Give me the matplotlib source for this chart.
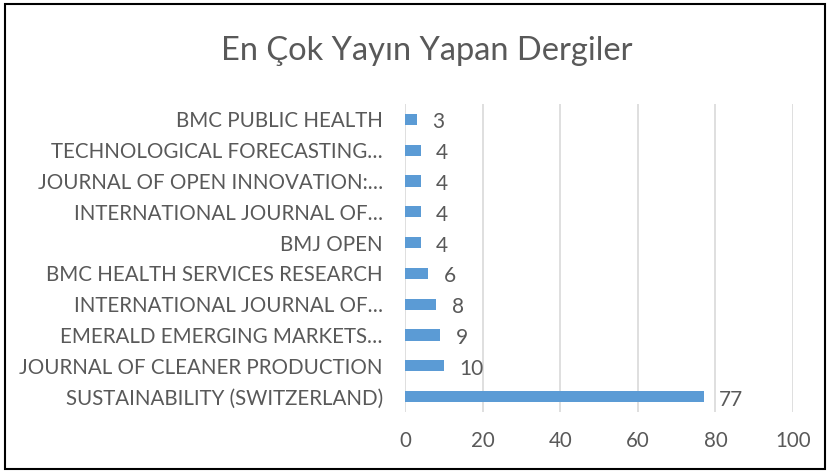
import matplotlib.pyplot as plt
import numpy as np

journals = [
    "SUSTAINABILITY (SWITZERLAND)",
    "JOURNAL OF CLEANER PRODUCTION",
    "EMERALD EMERGING MARKETS…",
    "INTERNATIONAL JOURNAL OF…",
    "BMC HEALTH SERVICES RESEARCH",
    "BMJ OPEN",
    "INTERNATIONAL JOURNAL OF…",
    "JOURNAL OF OPEN INNOVATION:…",
    "TECHNOLOGICAL FORECASTING…",
    "BMC PUBLIC HEALTH",
]
counts = [77, 10, 9, 8, 6, 4, 4, 4, 4, 3]
xticks = [0, 20, 40, 60, 80, 100]

plt.rcParams['font.family'] = ['Lato', 'DejaVu Sans']
txt = '#595959'

fig = plt.figure(figsize=(8.3, 4.73), dpi=100)
ax = fig.add_axes([405 / 830, 1 - 412 / 473, 388 / 830, 308 / 473])

y = np.arange(len(journals))
ax.barh(y, counts, height=0.36, color='#5B9BD5', zorder=3)
for yi, c in zip(y, counts):
    ax.text(c + 4, yi - 0.1, str(c), va='center', ha='left', fontsize=15, color=txt)

ax.set_xlim(0, 100)
ax.set_ylim(-0.5, len(journals) - 0.5)
ax.set_xticks(xticks)
ax.set_yticks(y)
ax.set_yticklabels(journals)
ax.tick_params(axis='both', length=0, labelsize=14.8, colors=txt)
ax.tick_params(axis='x', pad=14)
ax.tick_params(axis='y', pad=16)
ax.grid(axis='x', color='#D9D9D9', linewidth=1.2, zorder=0)
for s in ax.spines.values():
    s.set_visible(False)

fig.text(427 / 830, 1 - 51 / 473, "En Çok Yayın Yapan Dergiler", ha='center', va='center',
         fontsize=23.5, color=txt)

# border around chart
fig.patches.append(plt.Rectangle((5 / 830, 4 / 473), 820 / 830, 465 / 473,
                                 transform=fig.transFigure, fill=False,
                                 edgecolor='black', linewidth=1.5))

fig.savefig('out.png', dpi=100)
